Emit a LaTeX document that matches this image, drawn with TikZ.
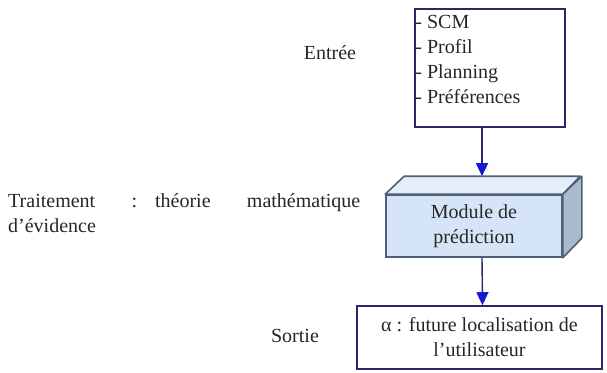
\documentclass[tikz,border=0pt]{standalone}
\usepackage{fontspec}
\setmainfont{Liberation Serif}
\usetikzlibrary{arrows.meta}
\usetikzlibrary{calc}

\definecolor{boxnavy}{RGB}{40,40,105}
\definecolor{tipblue}{RGB}{25,25,210}
\definecolor{cubeedge}{RGB}{80,95,120}
\definecolor{cubefront}{RGB}{213,229,247}
\definecolor{cubetop}{RGB}{228,237,248}
\definecolor{cubeside}{RGB}{170,185,205}

\begin{document}
\begin{tikzpicture}[x=1pt,y=-1pt,
    txt/.style={font=\fontsize{20}{25}\selectfont, text=black!85},
    framebox/.style={draw=boxnavy, line width=1.6pt},
    flow/.style={draw=boxnavy, line width=1.4pt, -{Triangle[width=12pt,length=13pt,color=tipblue]}}]

    \useasboundingbox (0,0) rectangle (607,372);

    % input box and its list
    \node[framebox, minimum width=150pt, minimum height=118pt] (inbox) at (490,68) {};
    \node[txt, anchor=north west, align=left, inner xsep=1pt, inner ysep=7pt] (inlist) at (inbox.north west) {- SCM\\- Profil\\- Planning\\- Préférences};
    \node[txt] (entree) at (330,53) {Entrée};

    % prediction module (box drawn as a cuboid)
    \node[txt, draw=cubeedge, line width=1.6pt, fill=cubefront, minimum width=176pt, minimum height=62pt, align=center] (module) at (474,226) {Module de\\prédiction};
    \draw[cubeedge, line width=1.6pt, fill=cubetop, line join=round] (module.north west) -- ++(19,-18) -- ++(176,0) -- (module.north east) -- cycle;
    \draw[cubeedge, line width=1.6pt, fill=cubeside, line join=round] (module.north east) -- ++(19,-18) -- ++(0,62) -- (module.south east) -- cycle;
    \coordinate (moduletop) at ($(module.north)+(8,-18)$);
    \node[txt, anchor=north west, text width=352pt, align=left, inner sep=0pt] (traitement) at (8,193) {Traitement\hfill:\hspace{18pt}théorie\hfill mathématique\\d’évidence};

    % output box
    \node[txt, framebox, minimum width=245pt, minimum height=63pt, align=center] (outbox) at (479.5,337.5) {α : future localisation de\\l’utilisateur};
    \node[txt] (sortie) at (295,336) {Sortie};

    % arrows
    \draw[flow] ([xshift=-8pt]inbox.south) -- (moduletop);
    \draw[flow] ([xshift=8pt]module.south) -- ([xshift=3pt]outbox.north);
\end{tikzpicture}
\end{document}
